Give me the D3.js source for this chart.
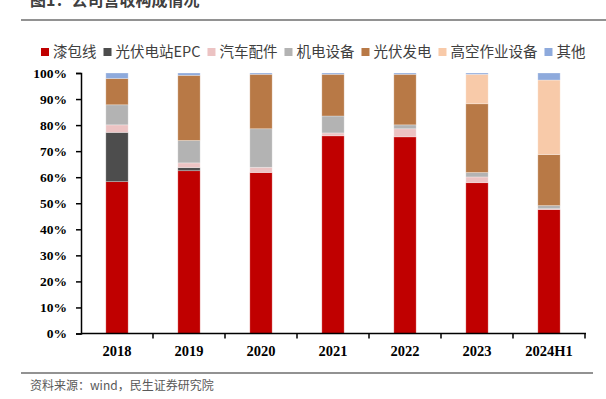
<!doctype html>
<html>
<head>
<meta charset="utf-8">
<script src="https://cdnjs.cloudflare.com/ajax/libs/d3/7.8.5/d3.min.js"></script>
<style>
  body { margin: 0; background: #fff; }
  svg { display: block; }
  .cn { font-family: "Noto Sans CJK SC", "Noto Sans", sans-serif; }
  .num { font-family: "Liberation Serif", "Times New Roman", serif; font-weight: bold; }
</style>
</head>
<body>
<svg id="chart" width="606" height="399"></svg>
<script>
// categories and series (share of revenue, %)
var years = ["2018", "2019", "2020", "2021", "2022", "2023", "2024H1"];
var seriesNames = ["漆包线", "光伏电站EPC", "汽车配件", "机电设备", "光伏发电", "高空作业设备", "其他"];
var seriesColors = ["#c00000", "#4d4d4d", "#ecc3c3", "#b3b3b3", "#b87946", "#f8caa9", "#8eaadc"];

var enamelWire = [58.3, 62.5, 61.8, 75.9, 75.5, 57.9, 47.6];
var pvEpc      = [18.9,  1.2,  0.0,  0.0,  0.0,  0.0,  0.0];
var autoParts  = [ 2.9,  1.8,  2.0,  1.1,  3.1,  2.2,  0.3];
var mechElec   = [ 7.7,  8.6, 14.8,  6.5,  1.5,  1.7,  1.2];
var pvPower    = [10.1, 25.0, 20.9, 16.0, 19.4, 26.4, 19.6];
var aerial     = [ 0.0,  0.0,  0.0,  0.0,  0.0, 11.3, 28.6];
var other      = [ 2.1,  0.9,  0.5,  0.5,  0.5,  0.5,  2.7];

var yTicks = [0, 10, 20, 30, 40, 50, 60, 70, 80, 90, 100];

var allSeries = [enamelWire, pvEpc, autoParts, mechElec, pvPower, aerial, other];
var rows = years.map(function(y, i) {
  var r = { year: y };
  seriesNames.forEach(function(n, k) { r[n] = allSeries[k][i]; });
  return r;
});

var svg = d3.select("#chart");

// title (cut off at top, as in the source) and rule lines
svg.append("text")
  .attr("class", "cn")
  .attr("x", 30).attr("y", 6)
  .attr("font-size", 16).attr("font-weight", "bold")
  .attr("fill", "#404040")
  .text("图1：公司营收构成情况");
svg.append("line").attr("x1", 21).attr("x2", 606).attr("y1", 20).attr("y2", 20)
  .attr("stroke", "#6e6e6e").attr("stroke-width", 1.5);
svg.append("line").attr("x1", 21).attr("x2", 593).attr("y1", 373).attr("y2", 373)
  .attr("stroke", "#6e6e6e").attr("stroke-width", 1.5);
svg.append("text")
  .attr("class", "cn")
  .attr("x", 30).attr("y", 390)
  .attr("font-size", 12).attr("fill", "#595959")
  .text("资料来源：wind，民生证券研究院");

// scales
var x = d3.scaleBand().domain(years).range([81, 585]).paddingInner(0.69).paddingOuter(0.345);
var xOuter = d3.scaleBand().domain(years).range([81, 585]);
var y = d3.scaleLinear().domain([0, 100]).range([333.5, 73]);

var layers = d3.stack().keys(seriesNames)(rows);

svg.append("g").selectAll("g")
  .data(layers)
  .enter().append("g")
    .attr("fill", function(d, i) { return seriesColors[i]; })
  .selectAll("rect")
  .data(function(d) { return d; })
  .enter().append("rect")
    .attr("x", function(d) { return x(d.data.year); })
    .attr("width", x.bandwidth())
    .attr("y", function(d) { return y(d[1]); })
    .attr("height", function(d) { return Math.max(0, y(d[0]) - y(d[1])); })
    .attr("stroke", "#ffffff").attr("stroke-opacity", 0.35).attr("stroke-width", 0.8);

// y axis
var yAxis = d3.axisLeft(y).tickValues(yTicks).tickSize(5).tickPadding(9)
  .tickFormat(function(d) { return d + "%"; });
var gy = svg.append("g").attr("transform", "translate(81,0)").call(yAxis);
gy.select(".domain").attr("stroke", "#000").attr("stroke-width", 1.5);
gy.selectAll(".tick line").attr("stroke", "#000").attr("stroke-width", 1.5);
gy.selectAll("text").attr("class", "num").attr("font-size", 13.5).attr("fill", "#000");

// x axis with ticks at band boundaries
var gx = svg.append("g").attr("transform", "translate(0,333.5)");
gx.append("line").attr("x1", 81).attr("x2", 586).attr("stroke", "#000").attr("stroke-width", 1.5);
gx.selectAll("line.tk")
  .data(years)
  .enter().append("line")
    .attr("class", "tk")
    .attr("x1", function(d) { return xOuter(d) + xOuter.bandwidth(); })
    .attr("x2", function(d) { return xOuter(d) + xOuter.bandwidth(); })
    .attr("y1", 0).attr("y2", 5)
    .attr("stroke", "#000").attr("stroke-width", 1.5);
gx.selectAll("text")
  .data(years)
  .enter().append("text")
    .attr("class", "num")
    .attr("x", function(d) { return xOuter(d) + xOuter.bandwidth() / 2; })
    .attr("y", 22.5)
    .attr("text-anchor", "middle")
    .attr("font-size", 14.5)
    .text(function(d) { return d; });

// legend
var legend = svg.append("g").attr("transform", "translate(41,52)");
var lx = 0;
seriesNames.forEach(function(n, i) {
  legend.append("rect").attr("x", lx).attr("y", -4).attr("width", 8).attr("height", 8)
    .attr("fill", seriesColors[i]);
  var t = legend.append("text").attr("class", "cn")
    .attr("x", lx + 12).attr("y", 0).attr("dy", "0.36em")
    .attr("font-size", 14.5).attr("fill", "#404040")
    .text(n);
  lx += 12 + t.node().getComputedTextLength() + 7;
});
</script>
</body>
</html>
